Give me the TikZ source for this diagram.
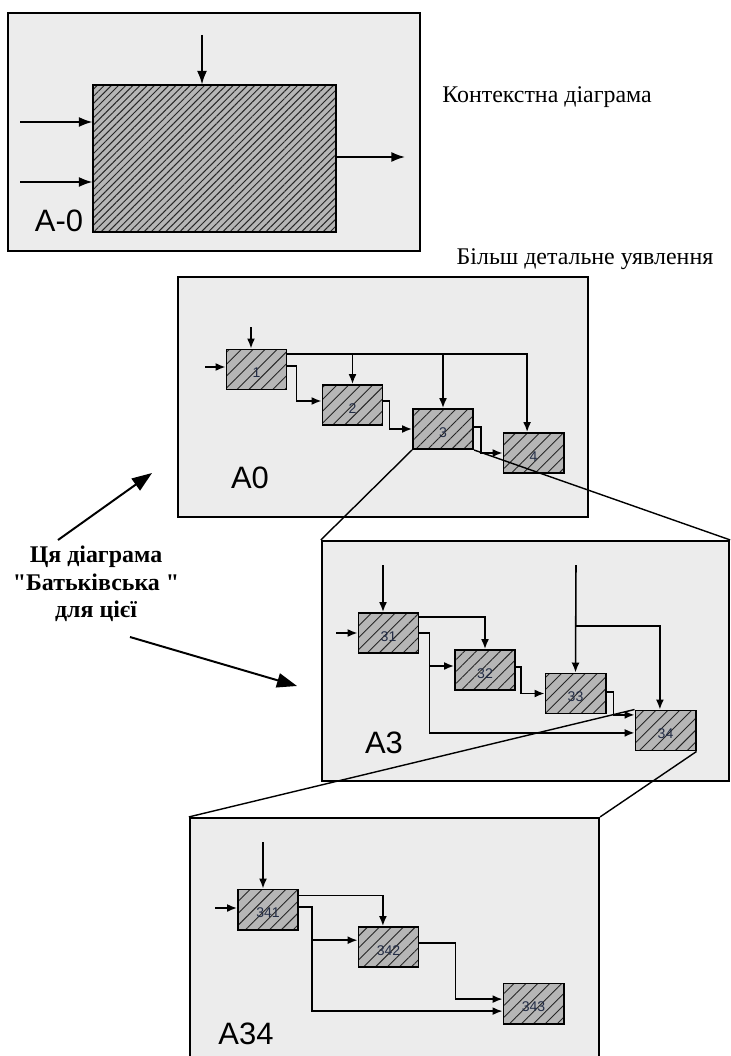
\documentclass[tikz,border=0pt]{standalone}
\usepackage{fontspec}
\setmainfont{Liberation Serif}
\setsansfont{Liberation Sans}
\newfontfamily\notefont{Liberation Serif}
\usetikzlibrary{arrows.meta,positioning,patterns.meta}
\definecolor{framegray}{RGB}{236,236,236}
\definecolor{boxgray}{RGB}{182,182,182}
\definecolor{numblue}{RGB}{35,45,70}

\begin{document}
\begin{tikzpicture}[
    x=0.025cm, y=-0.025cm,
    frame/.style={draw, line width=1.5pt, fill=framegray, inner sep=0pt},
    act/.style={draw, line width=1.4pt, preaction={fill=boxgray}, pattern={Lines[angle=45,distance=6pt,line width=0.65pt]}, pattern color=black!85, minimum width=1.5cm, minimum height=1cm, inner sep=0pt, font=\sffamily\fontsize{10}{11}\selectfont, text=numblue, text height=12pt, text depth=0pt},
    arr/.style={-{Latex[length=2.5mm,width=2mm]}, line width=1.1pt},
    toparr/.style={-{Latex[length=3.4mm,width=2.5mm]}, line width=1.2pt},
    bigarr/.style={-{Triangle[length=5mm,width=3.6mm]}, line width=1.4pt},
    zoomline/.style={line width=1pt},
    lvl/.style={font=\sffamily\fontsize{22}{24}\selectfont}
]
\useasboundingbox (0,0) rectangle (730,1056);

% Context diagram
\node[frame, minimum width=10.3cm, minimum height=5.95cm] (f0) at (214,132) {};
\node[act, minimum width=6.075cm, minimum height=3.675cm, pattern={Lines[angle=45,distance=3.6pt,line width=0.7pt]}] (ctx) at (214.5,158.5) {};
\node[lvl] (l0) at (59,221) {A-0};
\coordinate (c0) at (202,35);
\coordinate (i1) at (20,122);
\coordinate (i2) at (20,182);
\coordinate (o1) at (405,157);
\draw[toparr] (c0) -- (c0 |- ctx.north);
\draw[toparr] (i1) -- (i1 -| ctx.west);
\draw[toparr] (i2) -- (i2 -| ctx.west);
\draw[toparr] (ctx.east |- o1) -- (o1);
\node[font=\fontsize{17}{19}\selectfont] (t0) at (547,97) {Контекстна діаграма};
\node[font=\fontsize{17}{19}\selectfont] (t1) at (585,259) {Більш детальне уявлення};

% A0
\node[frame, minimum width=10.25cm, minimum height=6cm] (f1) at (383,397) {};
\node[act] (b1) at (256.5,369.5) {1};
\node[act] (b2) at (352.5,405) {2};
\node[act] (b3) at (443,429) {3};
\node[act] (b4) at (533.5,453) {4};
\node[lvl] (l1) at (250,478) {A0};
\coordinate (a0in) at (205,367);
\coordinate (a0top) at (251,327);
\coordinate (t1a) at ([yshift=-0.14cm]b1.north east);
\draw[arr] (a0in) -- (a0in -| b1.west);
\draw[arr] (a0top) -- (a0top |- b1.north);
\draw[arr] (t1a) -| ([xshift=-0.16cm]b4.north);
\draw[arr] (b2.north |- t1a) -- (b2.north);
\draw[arr] (b3.north |- t1a) -- (b3.north);
\draw[arr] ([yshift=0.09cm]b1.east) -- ++(9,0) |- ([yshift=0.1cm]b2.west);
\draw[arr] ([yshift=0.1cm]b2.east) -- ++(6,0) |- (b3.west);
\draw[arr] ([yshift=0.05cm]b3.east) -- ++(7,0) |- (b4.west);

% A3
\node[frame, minimum width=10.175cm, minimum height=6cm] (f3) at (525.5,661) {};
\node[act] (b31) at (388.5,633) {31};
\node[act] (b32) at (485,670) {32};
\node[act] (b33) at (575.5,693.5) {33};
\node[act] (b34) at (665.5,730.5) {34};
\node[lvl] (l3) at (384,743) {A3};
\coordinate (a3in) at (336,633);
\coordinate (a3top) at (383,565);
\coordinate (a3top2) at (576,565);
\coordinate (a3br) at (576,626);
\draw[arr] (a3in) -- (b31.west);
\draw[arr] (a3top) -- (a3top |- b31.north);
\draw[arr] ([yshift=-0.13cm]b31.north east) -| (b32.north);
\draw[arr] (b31.east) -- ++(10,0) |- ([yshift=0.1cm]b32.west);
\draw[arr] (b31.east) -- ++(10,0) |- ([yshift=-0.06cm]b34.west);
\draw[arr] ([yshift=0.08cm]b32.east) -- ++(5,0) |- (b33.west);
\draw[arr] ([yshift=0.04cm]b33.east) -- ++(7,0) |- ([yshift=0.39cm]b34.west);
\draw[arr] (a3top2) -- (b33.north);
\draw[arr] (a3br) -| ([xshift=-0.14cm]b34.north);

% A34
\node[frame, minimum width=10.225cm, minimum height=6.55cm] (f34) at (394.5,949) {};
\node[act] (b341) at (268,909.5) {341};
\node[act] (b342) at (388.5,947) {342};
\node[act] (b343) at (533.5,1003.5) {343};
\node[lvl] (l34) at (246,1034) {A34};
\coordinate (a34in) at (215,908);
\coordinate (a34top) at (263,842);
\draw[arr] (a34in) -- (a34in -| b341.west);
\draw[arr] (a34top) -- (a34top |- b341.north);
\draw[arr] ([yshift=-0.17cm]b341.north east) -| ([xshift=-0.14cm]b342.north);
\draw[arr] ([yshift=0.06cm]b341.east) -- ++(13,0) |- ([yshift=0.17cm]b342.west);
\draw[arr] ([yshift=0.06cm]b341.east) -- ++(13,0) |- ([yshift=-0.19cm]b343.west);
\draw[arr] ([yshift=0.1cm]b342.east) -- ++(36,0) |- ([yshift=0.11cm]b343.west);

% zoom lines
\draw[zoomline] (b3.south west) -- (f3.north west);
\draw[zoomline] (b3.south east) -- (f3.north east);
\draw[zoomline] (b34.north west) -- (f34.north west);
\draw[zoomline] (b34.south east) -- (f34.north east);

% Parent note
\node[font=\notefont\bfseries\fontsize{17}{19.5}\selectfont, align=center] (note) at (96,584) {Ця діаграма\\"Батьківська "\\для цієї};
\coordinate (n1) at (58,540);
\coordinate (n2) at (152,473);
\coordinate (n3) at (130,637);
\coordinate (n4) at (297,686);
\draw[bigarr] (n1) -- (n2);
\draw[bigarr] (n3) -- (n4);
\end{tikzpicture}
\end{document}
